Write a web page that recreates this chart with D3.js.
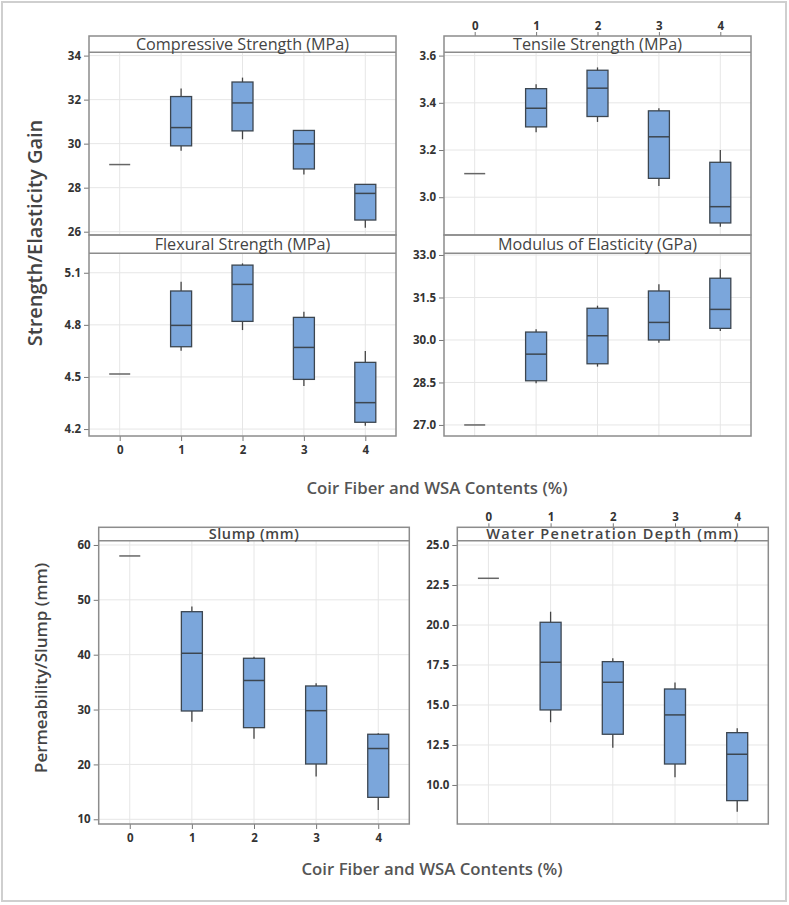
<!DOCTYPE html>
<html>
<head>
<meta charset="utf-8">
<script src="https://cdn.jsdelivr.net/npm/d3@7"></script>
<style>
  body { margin: 0; background: #fff; }
  svg { display: block; }
  text { font-family: "Open Sans", "Noto Sans", sans-serif; }
</style>
</head>
<body>
<script>
const contents = [0, 1, 2, 3, 4];

// each row: [min, q1, median, q3, max] for one coir fiber / WSA level
const compressive = [[29.05, 29.05, 29.05, 29.05, 29.05], [29.68, 29.9, 30.73, 32.14, 32.5], [30.2, 30.58, 31.85, 32.8, 33.0], [28.6, 28.85, 29.99, 30.6, 30.6], [26.18, 26.53, 27.74, 28.15, 28.15]];
const tensile = [[3.1, 3.1, 3.1, 3.1, 3.1], [3.275, 3.298, 3.377, 3.46, 3.479], [3.319, 3.342, 3.462, 3.538, 3.55], [3.048, 3.08, 3.256, 3.366, 3.377], [2.875, 2.891, 2.96, 3.148, 3.2]];
const flexural = [[4.517, 4.517, 4.517, 4.517, 4.517], [4.651, 4.674, 4.797, 4.995, 5.048], [4.77, 4.82, 5.033, 5.144, 5.154], [4.448, 4.486, 4.67, 4.843, 4.875], [4.219, 4.239, 4.352, 4.584, 4.649]];
const modulus = [[27.0, 27.0, 27.0, 27.0, 27.0], [28.47, 28.56, 29.5, 30.28, 30.38], [29.06, 29.16, 30.15, 31.12, 31.21], [29.9, 30.0, 30.62, 31.73, 31.97], [30.32, 30.41, 31.08, 32.18, 32.5]];
const slump = [[58, 58, 58, 58, 58], [27.8, 29.74, 40.26, 47.84, 48.8], [24.7, 26.7, 35.3, 39.35, 39.64], [17.8, 20.08, 29.8, 34.3, 34.8], [11.7, 14.0, 22.9, 25.5, 25.7]];
const waterDepth = [[22.92, 22.92, 22.92, 22.92, 22.92], [13.92, 14.69, 17.67, 20.17, 20.83], [12.33, 13.17, 16.42, 17.71, 17.92], [10.48, 11.31, 14.38, 16.0, 16.4], [8.33, 9.02, 11.92, 13.27, 13.54]];

const compressiveTicks = [26, 28, 30, 32, 34];
const tensileTicks = [3.0, 3.2, 3.4, 3.6];
const flexuralTicks = [4.2, 4.5, 4.8, 5.1];
const modulusTicks = [27.0, 28.5, 30.0, 31.5, 33.0];
const slumpTicks = [10, 20, 30, 40, 50, 60];
const waterTicks = [10.0, 12.5, 15.0, 17.5, 20.0, 22.5, 25.0];

const W = 789, H = 905;
const boxW = 21;

const svg = d3.select("body").append("svg")
    .attr("width", W)
    .attr("height", H);

// outer frame
svg.append("rect")
    .attr("x", 2).attr("y", 2)
    .attr("width", W - 5).attr("height", H - 6)
    .attr("fill", "none")
    .attr("stroke", "#cfcfcf")
    .attr("stroke-width", 2);

const panels = [
  { title: "Compressive Strength (MPa)", data: compressive, ticks: compressiveTicks, dom: [25.85, 34.15], fmt: d3.format("d"),
    x0: 89, x1: 396, s0: 36, y0: 52.3, y1: 235, titleSize: 16.2, xlab: null },
  { title: "Flexural Strength (MPa)", data: flexural, ticks: flexuralTicks, dom: [4.16, 5.212], fmt: d3.format(".1f"),
    x0: 89, x1: 396, s0: 235, y0: 253.3, y1: 436, titleSize: 16.2, xlab: "bottom" },
  { title: "Tensile Strength (MPa)", data: tensile, ticks: tensileTicks, dom: [2.84, 3.614], fmt: d3.format(".1f"),
    x0: 444, x1: 751, s0: 36, y0: 52.3, y1: 235, titleSize: 16.2, xlab: "top" },
  { title: "Modulus of Elasticity (GPa)", data: modulus, ticks: modulusTicks, dom: [26.61, 33.06], fmt: d3.format(".1f"),
    x0: 444, x1: 751, s0: 235, y0: 253.3, y1: 436, titleSize: 16.2, xlab: null },
  { title: "Slump (mm)", data: slump, ticks: slumpTicks, dom: [9.14, 60.78], fmt: d3.format("d"),
    x0: 98.7, x1: 409.3, s0: 527.3, y0: 540.7, y1: 824, titleSize: 14.5, xlab: "bottom", bold: true, spacing: 0.6 },
  { title: "Water Penetration Depth (mm)", data: waterDepth, ticks: waterTicks, dom: [7.56, 25.27], fmt: d3.format(".1f"),
    x0: 457.3, x1: 768.3, s0: 527.3, y0: 540.7, y1: 824, titleSize: 14.5, xlab: "top", bold: true, spacing: 1.3 }
];

panels.forEach(p => {
  const g = svg.append("g");
  const x = d3.scalePoint().domain(contents).range([p.x0, p.x1]).padding(0.5);
  const y = d3.scaleLinear().domain(p.dom).range([p.y1, p.y0]);

  // grid
  g.selectAll(".gx").data(contents).enter().append("line")
    .attr("x1", d => x(d)).attr("x2", d => x(d))
    .attr("y1", p.y0).attr("y2", p.y1)
    .attr("stroke", "#e6e6e6").attr("stroke-width", 1);
  g.selectAll(".gy").data(p.ticks).enter().append("line")
    .attr("x1", p.x0).attr("x2", p.x1)
    .attr("y1", d => y(d)).attr("y2", d => y(d))
    .attr("stroke", "#e6e6e6").attr("stroke-width", 1);

  // y axis
  const yAxis = d3.axisLeft(y).tickValues(p.ticks).tickFormat(p.fmt).tickSize(5).tickPadding(3);
  const ya = g.append("g").attr("transform", `translate(${p.x0},0)`).call(yAxis);
  ya.select(".domain").remove();
  ya.selectAll("line").attr("stroke", "#777");
  ya.selectAll("text").attr("fill", "#333").attr("font-size", 11.5).attr("font-weight", 700)
    .style("font-family", "'Open Sans', sans-serif");

  // x axis labels
  if (p.xlab === "bottom") {
    const xa = g.append("g").attr("transform", `translate(0,${p.y1})`)
      .call(d3.axisBottom(x).tickSize(5).tickPadding(5));
    xa.select(".domain").remove();
    xa.selectAll("line").attr("stroke", "#777");
    xa.selectAll("text").attr("fill", "#333").attr("font-size", 11.5).attr("font-weight", 700)
      .style("font-family", "'Open Sans', sans-serif");
  } else if (p.xlab === "top") {
    const xa = g.append("g").attr("transform", `translate(0,${p.s0})`)
      .call(d3.axisTop(x).tickSize(4).tickPadding(2));
    xa.select(".domain").remove();
    xa.selectAll("line").attr("stroke", "#777");
    xa.selectAll("text").attr("fill", "#333").attr("font-size", 11.5).attr("font-weight", 700)
      .style("font-family", "'Open Sans', sans-serif");
  }

  // boxes
  const grp = g.selectAll(".box").data(p.data).enter().append("g")
    .attr("transform", (d, i) => `translate(${x(contents[i])},0)`);

  grp.filter(d => d[0] === d[4]).append("line")
    .attr("x1", -boxW / 2).attr("x2", boxW / 2)
    .attr("y1", d => y(d[2])).attr("y2", d => y(d[2]))
    .attr("stroke", "#666").attr("stroke-width", 1.5);

  const real = grp.filter(d => d[0] !== d[4]);
  real.append("line")
    .attr("x1", 0).attr("x2", 0)
    .attr("y1", d => y(d[4])).attr("y2", d => y(d[0]))
    .attr("stroke", "#444").attr("stroke-width", 1.3);
  real.append("rect")
    .attr("x", -boxW / 2).attr("width", boxW)
    .attr("y", d => y(d[3]))
    .attr("height", d => y(d[1]) - y(d[3]))
    .attr("fill", "#7ba6db")
    .attr("stroke", "#3c4650").attr("stroke-width", 1.3);
  real.append("line")
    .attr("x1", -boxW / 2).attr("x2", boxW / 2)
    .attr("y1", d => y(d[2])).attr("y2", d => y(d[2]))
    .attr("stroke", "#3c4650").attr("stroke-width", 1.5);

  // frame and strip
  g.append("rect")
    .attr("x", p.x0).attr("y", p.s0)
    .attr("width", p.x1 - p.x0).attr("height", p.y1 - p.s0)
    .attr("fill", "none").attr("stroke", "#8c8c8c").attr("stroke-width", 1.5);
  g.append("line")
    .attr("x1", p.x0).attr("x2", p.x1)
    .attr("y1", p.y0).attr("y2", p.y0)
    .attr("stroke", "#8c8c8c").attr("stroke-width", 1.5);
  g.append("text")
    .attr("x", (p.x0 + p.x1) / 2)
    .attr("y", (p.s0 + p.y0) / 2)
    .attr("dy", "0.36em")
    .attr("text-anchor", "middle")
    .attr("font-size", p.titleSize)
    .attr("font-weight", p.bold ? 600 : 500)
    .attr("letter-spacing", p.spacing || 0)
    .attr("fill", "#444")
    .text(p.title);
});

// axis titles
svg.append("text")
  .attr("transform", "translate(42,233) rotate(-90)")
  .attr("text-anchor", "middle")
  .attr("font-size", 20).attr("font-weight", 600).attr("fill", "#444")
  .text("Strength/Elasticity Gain");

svg.append("text")
  .attr("transform", "translate(47,668) rotate(-90)")
  .attr("text-anchor", "middle")
  .attr("font-size", 17).attr("font-weight", 600).attr("fill", "#444")
  .text("Permeability/Slump (mm)");

svg.append("text")
  .attr("x", 437).attr("y", 494)
  .attr("text-anchor", "middle")
  .attr("font-size", 16.8).attr("font-weight", 600).attr("fill", "#555")
  .text("Coir Fiber and WSA Contents (%)");

svg.append("text")
  .attr("x", 432).attr("y", 875)
  .attr("text-anchor", "middle")
  .attr("font-size", 16.8).attr("font-weight", 600).attr("fill", "#555")
  .text("Coir Fiber and WSA Contents (%)");
</script>
</body>
</html>
